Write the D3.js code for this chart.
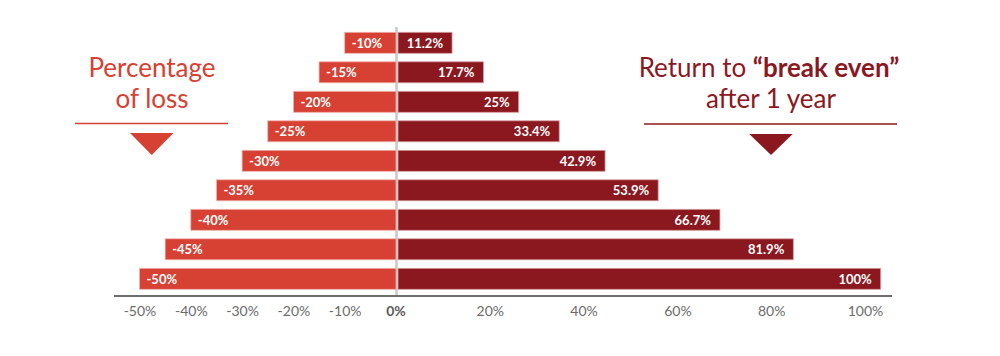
<!DOCTYPE html>
<html><head><meta charset="utf-8">
<script src="https://cdn.jsdelivr.net/npm/d3@7"></script>
<style>
html,body{margin:0;padding:0;background:#fff;}
svg{display:block;font-family:Lato,"Open Sans",sans-serif;}
</style></head>
<body>
<svg id="chart" width="1000" height="356"></svg>
<script>
const losses = [10, 15, 20, 25, 30, 35, 40, 45, 50];
const lossLabels = ["-10%","-15%","-20%","-25%","-30%","-35%","-40%","-45%","-50%"];
const gains = [11.2, 17.7, 25, 33.4, 42.9, 53.9, 66.7, 81.9, 100];
const gainLabels = ["11.2%","17.7%","25%","33.4%","42.9%","53.9%","66.7%","81.9%","100%"];
const leftTicks = [-50, -40, -30, -20, -10];
const rightTicks = [20, 40, 60, 80, 100];
const leftTitle = ["Percentage", "of loss"];

const svg = d3.select("#chart");
const LEFT = "#d64133", RIGHT = "#8c181f";

const y = d3.scaleBand().domain(d3.range(losses.length)).range([28.05, 293.55]).paddingInner(0.288).paddingOuter(0.144);
const xL = d3.scaleLinear().domain([-50, 0]).range([139.5, 396]);
const xR = d3.scaleLinear().domain([0, 100]).range([398, 880.7]);
const xRAxis = d3.scaleLinear().domain([0, 100]).range([396, 865]);

// center line
svg.append("line").attr("x1", 396.5).attr("x2", 396.5).attr("y1", 27).attr("y2", 296)
  .attr("stroke", "#c9c9c9").attr("stroke-width", 2.5);

// left bars
const gl = svg.append("g");
gl.selectAll("rect").data(losses).join("rect")
  .attr("x", d => xL(-d)).attr("y", (d, i) => y(i))
  .attr("width", d => xL(0) - xL(-d)).attr("height", y.bandwidth())
  .attr("fill", LEFT).attr("stroke", "#f0b3ab").attr("stroke-width", 0.8);
gl.selectAll("text").data(losses).join("text")
  .attr("x", d => xL(-d) + 7).attr("y", (d, i) => y(i) + y.bandwidth() / 2 + 5)
  .attr("fill", "#fff").attr("font-weight", "bold").attr("font-size", 13)
  .text((d, i) => lossLabels[i]);

// right bars
const gr = svg.append("g");
gr.selectAll("rect").data(gains).join("rect")
  .attr("x", xR(0)).attr("y", (d, i) => y(i))
  .attr("width", d => xR(d) - xR(0)).attr("height", y.bandwidth())
  .attr("fill", RIGHT).attr("stroke", "#d7a0a3").attr("stroke-width", 0.8);
gr.selectAll("text").data(gains).join("text")
  .attr("x", d => xR(d) - 9).attr("y", (d, i) => y(i) + y.bandwidth() / 2 + 5)
  .attr("text-anchor", "end")
  .attr("fill", "#fff").attr("font-weight", "bold").attr("font-size", 13)
  .text((d, i) => gainLabels[i]);

// axis
svg.append("line").attr("x1", 114).attr("x2", 892).attr("y1", 296).attr("y2", 296)
  .attr("stroke", "#6e6e6e").attr("stroke-width", 2.2);

const axL = svg.append("g").attr("transform", "translate(0,297)")
  .call(d3.axisBottom(xL).tickValues(leftTicks).tickSize(0).tickPadding(9).tickFormat(d => d + "%"));
const axR = svg.append("g").attr("transform", "translate(0,297)")
  .call(d3.axisBottom(xRAxis).tickValues(rightTicks).tickSize(0).tickPadding(9).tickFormat(d => d + "%"));
[axL, axR].forEach(a => {
  a.select(".domain").remove();
  a.selectAll("text").attr("font-family", "Lato, sans-serif").attr("font-size", 14).attr("fill", "#6b6b6b");
});
svg.append("text").attr("x", xL(0)).attr("y", 316).attr("text-anchor", "middle")
  .attr("font-size", 14).attr("font-weight", "bold").attr("fill", "#5a5a5a").text("0%");

// left title
const tl = svg.append("text").attr("text-anchor", "middle").attr("fill", LEFT).attr("font-size", 26);
leftTitle.forEach((t, i) => tl.append("tspan").attr("x", 152).attr("y", 77 + i * 31).text(t));
svg.append("line").attr("x1", 75).attr("x2", 228).attr("y1", 123.5).attr("y2", 123.5)
  .attr("stroke", LEFT).attr("stroke-width", 1.5);
svg.append("path").attr("d", "M130,133L173.5,133L151.7,155Z").attr("fill", LEFT);

// right title
const tr = svg.append("text").attr("text-anchor", "middle").attr("fill", RIGHT).attr("font-size", 26);
const l1 = tr.append("tspan").attr("x", 769).attr("y", 77);
l1.append("tspan").text("Return to ");
l1.append("tspan").attr("font-weight", "bold").text("\u201Cbreak even\u201D");
tr.append("tspan").attr("x", 771).attr("y", 108).text("after 1 year");
svg.append("line").attr("x1", 644).attr("x2", 897).attr("y1", 124).attr("y2", 124)
  .attr("stroke", RIGHT).attr("stroke-width", 1.5);
svg.append("path").attr("d", "M749.3,134L792.7,134L771,155Z").attr("fill", RIGHT);
</script>
</body></html>
